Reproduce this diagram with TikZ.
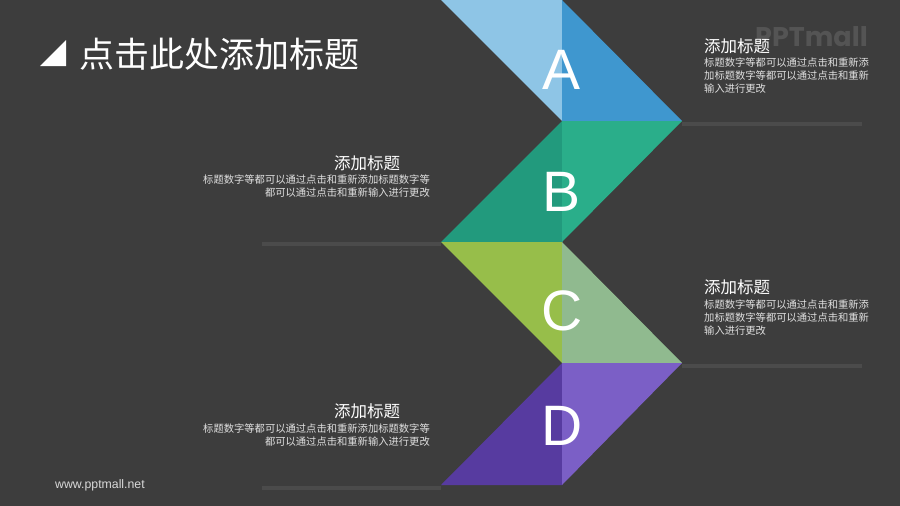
\documentclass[tikz,border=0pt]{standalone}
\usepackage{fontspec}
\setmainfont{Noto Sans CJK SC}
\newfontfamily\letterfont{Liberation Sans}
\newfontfamily\markfont{Poppins}
\definecolor{bg}{HTML}{3D3D3D}
\definecolor{shadowc}{HTML}{4B4B4B}
\definecolor{aL}{HTML}{8EC5E6}
\definecolor{aR}{HTML}{3F97CF}
\definecolor{bL}{HTML}{229A7D}
\definecolor{bR}{HTML}{2AAE8A}
\definecolor{cL}{HTML}{97BE4A}
\definecolor{cR}{HTML}{90BA8F}
\definecolor{dL}{HTML}{573BA0}
\definecolor{dR}{HTML}{7B5FC6}
\definecolor{wm}{HTML}{545454}
\begin{document}
\begin{tikzpicture}[x=1pt,y=-1pt,
  letter/.style={text=white,inner sep=0pt,font=\letterfont\fontsize{57}{57}\selectfont},
  head/.style={text=white,inner sep=0pt,font=\fontsize{16.5}{16.5}\selectfont},
  body/.style={text=white!88!black,inner sep=0pt,font=\fontsize{10.3}{12.6}\selectfont},
  shadowbar/.style={fill=shadowc}]
\fill[bg] (0,0) rectangle (900,506);
\useasboundingbox (0,0) rectangle (900,506);
% shadow bars
\fill[shadowbar] (682,122) rectangle (862,126);
\fill[shadowbar] (262,242) rectangle (441,246);
\fill[shadowbar] (682,364) rectangle (862,368);
\fill[shadowbar] (262,486) rectangle (441,490);
% A
\fill[aL] (441,0) -- (562,0) -- (562,121) -- cycle;
\fill[aR] (562,0) -- (682,121) -- (562,121) -- cycle;
% B
\fill[bL] (562,121) -- (562,242) -- (441,242) -- cycle;
\fill[bR] (562,121) -- (682,121) -- (562,242) -- cycle;
% C
\fill[cL] (441,242) -- (562,242) -- (562,363) -- cycle;
\fill[cR] (562,242) -- (682,363) -- (562,363) -- cycle;
% D
\fill[dL] (562,363) -- (562,485) -- (441,485) -- cycle;
\fill[dR] (562,363) -- (682,363) -- (562,485) -- cycle;
% letters
\node[letter] (la) at (562,70) {A};
\node[letter] (lb) at (562,192) {B};
\node[letter] (lc) at (562,311) {C};
\node[letter] (ld) at (562,426) {D};
% title
\fill[white] (40,66) -- (66,66) -- (66,40) -- cycle;
\node[text=white,inner sep=0pt,anchor=west,font=\fontsize{35}{35}\selectfont] (title) at (79,54) {点击此处添加标题};
% watermark
\node[text=wm,inner sep=0pt,anchor=west,font=\markfont\bfseries\fontsize{27}{27}\selectfont] (mark) at (755,37) {PPTmall};
% block A
\node[head,anchor=west] (ha) at (704,46) {添加标题};
\node[body,anchor=north west,align=left] (ta) at (704,58) {标题数字等都可以通过点击和重新添\\加标题数字等都可以通过点击和重新\\输入进行更改};
% block B
\node[head,anchor=west] (hb) at (334,163) {添加标题};
\node[body,anchor=north east,align=right] (tb) at (430,175) {标题数字等都可以通过点击和重新添加标题数字等\\都可以通过点击和重新输入进行更改};
% block C
\node[head,anchor=west] (hc) at (704,287) {添加标题};
\node[body,anchor=north west,align=left] (tc) at (704,300) {标题数字等都可以通过点击和重新添\\加标题数字等都可以通过点击和重新\\输入进行更改};
% block D
\node[head,anchor=west] (hd) at (334,411) {添加标题};
\node[body,anchor=north east,align=right] (td) at (430,424) {标题数字等都可以通过点击和重新添加标题数字等\\都可以通过点击和重新输入进行更改};
% footer
\node[text=white!85!black,inner sep=0pt,anchor=west,font=\letterfont\fontsize{12.3}{12.3}\selectfont] (url) at (55,485) {www.pptmall.net};
\end{tikzpicture}
\end{document}
